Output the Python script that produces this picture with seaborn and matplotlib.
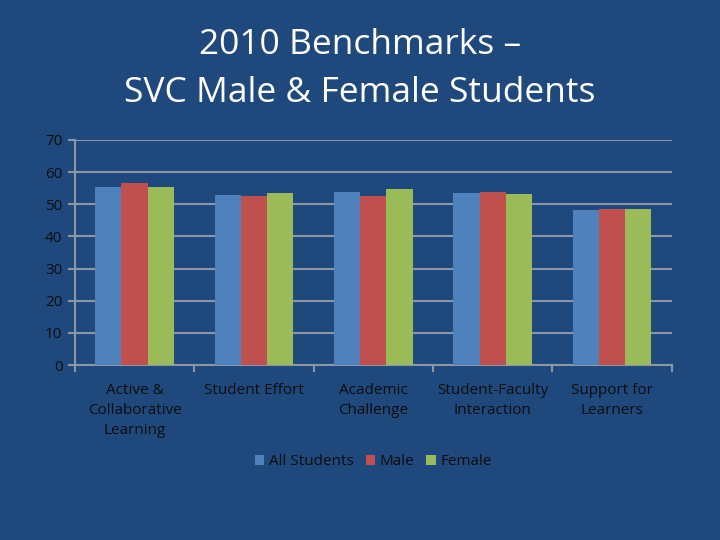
import pandas as pd
import seaborn as sns
import matplotlib.pyplot as plt

categories = ['Active &\nCollaborative\nLearning', 'Student Effort', 'Academic\nChallenge',
              'Student-Faculty\nInteraction', 'Support for\nLearners']
all_students = [55.5, 52.9, 53.8, 53.6, 48.3]
male = [56.7, 52.6, 52.6, 53.9, 48.6]
female = [55.2, 53.6, 54.8, 53.3, 48.6]

groups = ['All Students', 'Male', 'Female']
colors = ['#4F81BD', '#C0504D', '#9BBB59']
bg = '#1F497D'

data = pd.DataFrame({
    'Benchmark': categories * 3,
    'Score': all_students + male + female,
    'Group': [g for g in groups for _ in categories],
})

plt.rcParams['font.family'] = ['Open Sans', 'DejaVu Sans']

fig = plt.figure(figsize=(7.2, 5.4), dpi=100, facecolor=bg)
ax = fig.add_axes([0.104, 0.324, 0.829, 0.417])
ax.set_facecolor(bg)

sns.barplot(data=data, x='Benchmark', y='Score', hue='Group',
            palette=colors, width=0.66, saturation=1, ax=ax, zorder=3)

ax.set_ylim(0, 70)
ax.set_xlim(-0.5, 4.5)
ax.set_yticks(range(0, 71, 10))
ax.grid(axis='y', color='#8C96A8', linewidth=1.5, zorder=0)
ax.set_axisbelow(True)
for s in ['top', 'right']:
    ax.spines[s].set_visible(False)
for s in ['left', 'bottom']:
    ax.spines[s].set_color('#8C96A8')
    ax.spines[s].set_linewidth(1.5)

ax.tick_params(axis='x', length=0, pad=13, labelsize=11, labelcolor='#0D0D0D')
for t in ax.get_xticklabels():
    t.set_linespacing(1.45)
ax.set_xticks([i - 0.5 for i in range(6)], minor=True)
ax.tick_params(axis='x', which='minor', length=5, color='#8C96A8', width=1.5)
ax.tick_params(axis='y', length=5, color='#8C96A8', width=1.5, labelsize=11,
               labelcolor='#0D0D0D', pad=4)
ax.set_xlabel('')
ax.set_ylabel('')

ax.legend(loc='center', bbox_to_anchor=(0.5, -0.43), ncol=3, frameon=False,
          fontsize=11, labelcolor='#0D0D0D', handlelength=0.6, handleheight=0.6,
          handletextpad=0.3, columnspacing=0.8)

fig.text(0.5, 0.916, '2010 Benchmarks \u2013', ha='center', va='center',
         fontsize=25.5, color='white')
fig.text(0.5, 0.828, 'SVC Male & Female Students', ha='center', va='center',
         fontsize=25.5, color='white')

plt.savefig('out.png', dpi=100, facecolor=bg)
